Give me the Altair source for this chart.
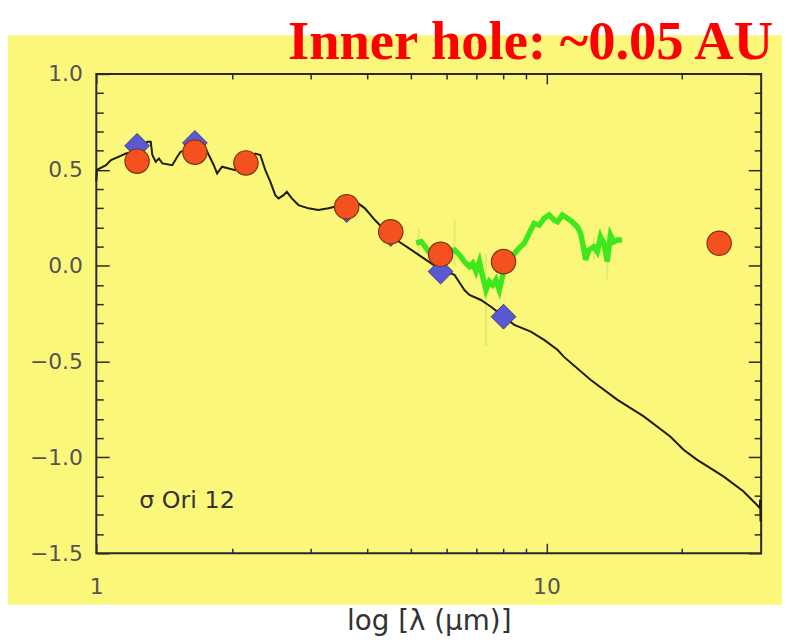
import altair as alt
import pandas as pd

# ---------------- data ----------------
# photospheric model (black line)
model_x = [1.00, 1.003, 1.051, 1.078, 1.142, 1.163, 1.214, 1.251, 1.299, 1.321, 1.332, 1.355,
           1.378, 1.402, 1.475, 1.513, 1.539, 1.590, 1.690, 1.734, 1.778, 1.824, 1.855, 1.903,
           1.969, 2.037, 2.104, 2.180, 2.256, 2.314, 2.374, 2.435, 2.498, 2.540, 2.606, 2.650,
           2.719, 2.813, 2.960, 3.114, 3.278, 3.391, 3.538, 3.818, 3.952, 4.158, 4.300, 4.518,
           4.762, 5.010, 5.271, 5.829, 6.249, 6.463, 6.575, 6.745, 7.153, 7.529, 8.033, 8.484,
           9.232, 9.883, 10.58, 10.94, 12.53, 14.36, 16.45, 18.84, 20.17, 21.59, 24.73, 27.38,
           29.30, 29.79, 29.85, 29.90]
model_y = [0.44, 0.50, 0.524, 0.551, 0.577, 0.585, 0.594, 0.613, 0.646, 0.646, 0.577, 0.542,
           0.559, 0.533, 0.524, 0.568, 0.594, 0.603, 0.664, 0.629, 0.577, 0.524, 0.481, 0.516,
           0.507, 0.498, 0.519, 0.551, 0.585, 0.577, 0.498, 0.438, 0.368, 0.351, 0.368, 0.385,
           0.351, 0.316, 0.299, 0.290, 0.299, 0.307, 0.316, 0.325, 0.299, 0.238, 0.203, 0.155,
           0.117, 0.082, 0.047, -0.022, -0.048, -0.101, -0.127, -0.153, -0.179, -0.214, -0.266, -0.309,
           -0.344, -0.387, -0.439, -0.476, -0.595, -0.699, -0.786, -0.891, -0.960, -1.012, -1.099, -1.177,
           -1.246, -1.264, -1.22, -1.335]

# IRS spectrum (green)
irs_x = [5.138, 5.271, 5.408, 5.546, 5.689, 5.947, 6.249, 6.411, 6.575, 6.745, 6.860, 6.977,
         7.098, 7.219, 7.342, 7.469, 7.596, 7.725, 7.861, 8.033, 8.337, 8.626, 8.928, 9.157,
         9.393, 9.634, 9.883, 10.14, 10.40, 10.58, 10.85, 11.13, 11.41, 11.71, 11.91, 12.12,
         12.22, 12.43, 12.75, 12.97, 13.19, 13.42, 13.65, 13.88, 14.12, 14.36, 14.73]
irs_y = [0.117, 0.125, 0.091, 0.056, 0.073, 0.071, 0.082, 0.056, 0.021, -0.005, 0.013, -0.031,
         0.021, -0.057, -0.127, -0.083, -0.101, -0.074, -0.127, -0.033, 0.039, 0.082, 0.117, 0.169,
         0.221, 0.212, 0.247, 0.264, 0.238, 0.229, 0.264, 0.247, 0.229, 0.203, 0.169, 0.082,
         0.030, 0.082, 0.099, 0.073, 0.151, 0.117, 0.021, 0.160, 0.125, 0.134, 0.134]

# faint error bars on the spectrum
err_x = [5.2, 6.25, 7.34, 12.75, 13.19, 13.65]
err_lo = [0.05, -0.005, -0.42, 0.03, 0.05, -0.07]
err_hi = [0.20, 0.24, 0.06, 0.15, 0.20, 0.17]

# observed photometry (red circles)
phot_x = [1.232, 1.656, 2.15, 3.6, 4.51, 5.82, 8.03, 24.2]
phot_y = [0.545, 0.592, 0.536, 0.307, 0.177, 0.059, 0.021, 0.117]

# model photometry (blue diamonds)
mphot_x = [1.232, 1.656, 3.6, 4.51, 5.82, 8.03]
mphot_y = [0.625, 0.64, 0.29, 0.165, -0.031, -0.266]

# ticks / texts
x_major = [1, 10]
x_minor = [2, 3, 4, 5, 6, 7, 8, 9, 20]
y_major = [-1.5, -1.0, -0.5, 0.0, 0.5, 1.0]
y_minor = [-1.4, -1.3, -1.2, -1.1, -0.9, -0.8, -0.7, -0.6, -0.4, -0.3, -0.2, -0.1,
           0.1, 0.2, 0.3, 0.4, 0.6, 0.7, 0.8, 0.9]
title_text = "Inner hole: ~0.05 AU"
x_title = "log [λ (μm)]"
star_label = ["σ Ori 12"]
star_x = [1.245]
star_y = [-1.262]

# ---------------- chart ----------------
W, H = 670, 483
PAD = {"left": 89, "top": 64, "right": 21, "bottom": 85}
BG = "#fbf77a"
INK = "#2a2a2a"

xs = alt.Scale(type="log", domain=[1, 30], nice=False)
ys = alt.Scale(domain=[-1.5, 1.0], nice=False, zero=False)


def ax(orient, values, size, **kw):
    base = dict(orient=orient, values=values, tickSize=size, offset=-size, domain=False,
                grid=False, labels=False, title=None, ticks=True, tickColor=INK,
                tickWidth=1.5, zindex=1)
    base.update(kw)
    return alt.Axis(**base)


lab = dict(labels=True, labelFont="DejaVu Sans", labelFontSize=22, labelColor="#555555",
           labelOverlap=False, labelFlush=False)

df_model = pd.DataFrame({"x": model_x, "y": model_y})
df_irs = pd.DataFrame({"x": irs_x, "y": irs_y})
df_err = pd.DataFrame({"x": err_x, "lo": err_lo, "hi": err_hi})
df_phot = pd.DataFrame({"x": phot_x, "y": phot_y})
df_mphot = pd.DataFrame({"x": mphot_x, "y": mphot_y})
df_star = pd.DataFrame({"x": star_x, "y": star_y, "t": star_label})
one = pd.DataFrame({"a": [0]})

white_top = alt.Chart(one).mark_rect(color="white").encode(
    x=alt.value(-PAD["left"]), x2=alt.value(W + PAD["right"]),
    y=alt.value(-PAD["top"] - 10), y2=alt.value(-39))
white_bot = alt.Chart(one).mark_rect(color="white").encode(
    x=alt.value(-PAD["left"]), x2=alt.value(W + PAD["right"]),
    y=alt.value(H + 52), y2=alt.value(H + PAD["bottom"] + 20))

err = alt.Chart(df_err).mark_rule(color="#d9ec6a", strokeWidth=2, opacity=0.9).encode(
    x=alt.X("x:Q", scale=xs, axis=ax("bottom", x_minor, 5)),
    y=alt.Y("lo:Q", scale=ys, axis=ax("left", y_minor, 7)),
    y2="hi:Q")

green = alt.Chart(df_irs).mark_line(color="#3fe81c", strokeWidth=5.5).encode(
    x=alt.X("x:Q", scale=xs, axis=ax("top", x_major, 10)),
    y=alt.Y("y:Q", scale=ys, axis=ax("right", y_major, 13)))

black = alt.Chart(df_model).mark_line(color="#1e1e08", strokeWidth=2).encode(
    x=alt.X("x:Q", scale=xs,
            axis=ax("bottom", x_major, 10, format="d", labelPadding=24, title=x_title,
                    titleFont="DejaVu Sans", titleFontSize=28, titleFontWeight="normal",
                    titleColor="#333333", titlePadding=10, **lab)),
    y=alt.Y("y:Q", scale=ys,
            axis=ax("left", y_major, 13, format=".1f", labelPadding=14, **lab)))

diamonds = alt.Chart(df_mphot).mark_point(
    shape="diamond", size=620, filled=True, fill="#5b58d4", stroke="#34338a",
    strokeWidth=1, opacity=1).encode(
    x=alt.X("x:Q", scale=xs, axis=ax("top", x_minor, 5)),
    y=alt.Y("y:Q", scale=ys, axis=ax("right", y_minor, 7)))

circles = alt.Chart(df_phot).mark_point(
    shape="circle", size=600, filled=True, fill="#f4511e", stroke="#7a3510",
    strokeWidth=1.2, opacity=1).encode(
    x=alt.X("x:Q", scale=xs, axis=None),
    y=alt.Y("y:Q", scale=ys, axis=None))

star = alt.Chart(df_star).mark_text(
    align="left", baseline="alphabetic", font="DejaVu Sans", fontSize=24,
    color="#333333").encode(
    x=alt.X("x:Q", scale=xs, axis=None),
    y=alt.Y("y:Q", scale=ys, axis=None),
    text="t:N")

title = alt.Chart(one).mark_text(
    text=title_text, align="right", baseline="alphabetic", font="Liberation Serif",
    fontSize=55, fontWeight="bold", color="#ff0000").encode(
    x=alt.value(W + 12), y=alt.value(-15))

chart = alt.layer(
    white_top, white_bot, err, green, black, diamonds, circles, star, title
).resolve_axis(x="independent", y="independent").properties(
    width=W, height=H, padding=PAD,
    autosize=alt.AutoSizeParams(type="none"), background=BG
).configure_view(stroke=INK, strokeWidth=2)

chart.save("out.html", embed_options={"renderer": "svg", "actions": False})
